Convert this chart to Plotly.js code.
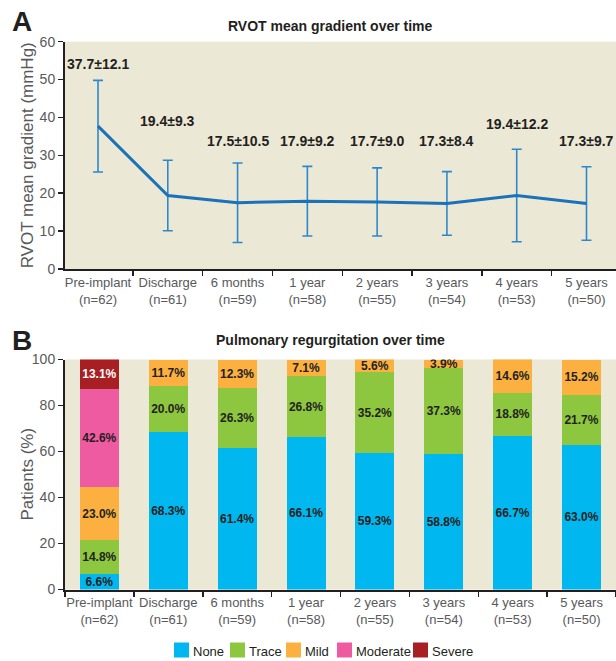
<!DOCTYPE html>
<html>
<head>
<meta charset="utf-8">
<script src="https://cdn.plot.ly/plotly-3.0.1.min.js"></script>
<style>
  html, body { margin: 0; padding: 0; background: #ffffff; }
  #chart { width: 616px; height: 661px; }
</style>
</head>
<body>
<div id="chart"></div>
<script>
// Follow-up visits and number of patients at each
const visits = ['Pre-implant', 'Discharge', '6 months', '1 year', '2 years', '3 years', '4 years', '5 years'];
const patientsN = [62, 61, 59, 58, 55, 54, 53, 50];

// RVOT mean gradient (mmHg): mean and standard deviation
const gradientMean = [37.7, 19.4, 17.5, 17.9, 17.7, 17.3, 19.4, 17.3];
const gradientSD = [12.1, 9.3, 10.5, 9.2, 9.0, 8.4, 12.2, 9.7];

// Pulmonary regurgitation grade, % of patients
const prNone = [6.6, 68.3, 61.4, 66.1, 59.3, 58.8, 66.7, 63.0];
const prTrace = [14.8, 20.0, 26.3, 26.8, 35.2, 37.3, 18.8, 21.7];
const prMild = [23.0, 11.7, 12.3, 7.1, 5.6, 3.9, 14.6, 15.2];
const prModerate = [42.6, null, null, null, null, null, null, null];
const prSevere = [13.1, null, null, null, null, null, null, null];
const gradeNames = ['None', 'Trace', 'Mild', 'Moderate', 'Severe'];

// ---- styling ----
const W = 616, H = 661;
const FONT = 'Liberation Sans, Arial, Helvetica, sans-serif';
const INK = '#231f20';
const GREY = '#58595b';
const PANEL_BG = '#ece8d6';
const gradeColors = ['#00b7ef', '#8dc63f', '#fbb040', '#ef5ba1', '#a71e23'];
const gradeTextColors = [INK, INK, INK, INK, '#ffffff'];

const px = v => v / W;            // horizontal pixel -> paper
const py = v => 1 - v / H;        // vertical pixel (from top) -> paper

// plot area edges in pixels
const PLOT_L = 65, PLOT_R = 616;
const A_TOP = 41.7, A_BOT = 269;
const B_TOP = 359.5, B_BOT = 589.5;

// heights (in mmHg) at which the mean±SD labels sit
const gradLabelY = [54, 39, 33.7, 33.7, 33.7, 33.7, 38.2, 33.7];

const tickText = visits.map((v, i) => v + '<br>(n=' + patientsN[i] + ')');

const traces = [];

traces.push({
  type: 'scatter',
  mode: 'lines',
  x: visits,
  y: gradientMean,
  xaxis: 'x', yaxis: 'y',
  line: { color: '#1b72b9', width: 3 },
  error_y: { type: 'data', array: gradientSD, visible: true, color: '#2f87cb', thickness: 1.6, width: 5 },
  showlegend: false,
  hoverinfo: 'skip'
});

const prSeries = [prNone, prTrace, prMild, prModerate, prSevere];
prSeries.forEach((vals, k) => {
  traces.push({
    type: 'bar',
    name: gradeNames[k],
    x: visits,
    y: vals,
    xaxis: 'x2', yaxis: 'y2',
    marker: { color: gradeColors[k], line: { width: 0 } },
    texttemplate: vals.map(v => (v === null ? '' : v.toFixed(1) + '%')),
    textposition: 'inside',
    insidetextanchor: 'middle',
    textangle: 0,
    constraintext: 'none',
    textfont: { family: FONT, size: 12, weight: 'bold', color: gradeTextColors[k] },
    showlegend: false,
    hoverinfo: 'skip'
  });
});

const xCommon = {
  type: 'category',
  domain: [px(PLOT_L), px(PLOT_R)],
  showline: true, linecolor: INK, linewidth: 2,
  ticks: 'outside', tickson: 'boundaries', ticklen: 5, tickwidth: 1.5, tickcolor: INK,
  tickvals: visits, ticktext: tickText, tickangle: 0,
  tickfont: { family: FONT, size: 13, color: GREY },
  showgrid: false, zeroline: false, fixedrange: true
};
const yCommon = {
  showline: true, linecolor: INK, linewidth: 2,
  ticks: 'outside', ticklen: 5, tickwidth: 1.5, tickcolor: INK,
  tickfont: { family: FONT, size: 14, color: GREY },
  showgrid: false, zeroline: false, fixedrange: true
};

const annotations = [];
// mean ± SD labels over the gradient line
visits.forEach((v, i) => {
  annotations.push({
    xref: 'x', yref: 'y', x: v, y: gradLabelY[i],
    text: '<b>' + gradientMean[i].toFixed(1) + '±' + gradientSD[i].toFixed(1) + '</b>',
    showarrow: false, xanchor: 'center', yanchor: 'middle',
    font: { family: FONT, size: 14, color: INK }
  });
});

function label(text, x, y, size, opts) {
  annotations.push(Object.assign({
    xref: 'paper', yref: 'paper', x: px(x), y: py(y), text: text,
    showarrow: false, xanchor: 'center', yanchor: 'middle',
    font: { family: FONT, size: size, color: INK }
  }, opts || {}));
}

// panel letters and titles
label('<b>A</b>', 10, 22, 28, { xanchor: 'left' });
label('<b>B</b>', 10, 340, 28, { xanchor: 'left' });
label('<b>RVOT mean gradient over time</b>', 330, 26, 14);
label('<b>Pulmonary regurgitation over time</b>', 330, 340, 14);

// axis titles
label('RVOT mean gradient (mmHg)', 27, (A_TOP + A_BOT) / 2, 17,
  { textangle: -90, font: { family: FONT, size: 17, color: GREY } });
label('Patients (%)', 27, (B_TOP + B_BOT) / 2, 17,
  { textangle: -90, font: { family: FONT, size: 17, color: GREY } });

// legend for regurgitation grades
const legendLeft = [174, 230, 286, 337, 413];
const LEG_Y = 650;
const shapes = [];
gradeNames.forEach((g, k) => {
  shapes.push({
    type: 'rect', xref: 'paper', yref: 'paper',
    x0: px(legendLeft[k]), x1: px(legendLeft[k] + 15),
    y0: py(LEG_Y - 7.5), y1: py(LEG_Y + 7.5),
    fillcolor: gradeColors[k], line: { width: 0 }
  });
  label(g, legendLeft[k] + 17, LEG_Y + 1, 13, { xanchor: 'left', font: { family: FONT, size: 13, color: INK } });
});

const layout = {
  width: W, height: H,
  margin: { l: 0, r: 0, t: 0, b: 0 },
  paper_bgcolor: '#ffffff',
  plot_bgcolor: PANEL_BG,
  showlegend: false,
  barmode: 'stack',
  bargap: 0.435,
  xaxis: Object.assign({}, xCommon, { anchor: 'y' }),
  yaxis: Object.assign({}, yCommon, { domain: [py(A_BOT), py(A_TOP)], range: [0, 60], dtick: 10, anchor: 'x' }),
  xaxis2: Object.assign({}, xCommon, { anchor: 'y2' }),
  yaxis2: Object.assign({}, yCommon, { domain: [py(B_BOT), py(B_TOP)], range: [0, 100], dtick: 20, anchor: 'x2' }),
  annotations: annotations,
  shapes: shapes
};

Plotly.newPlot('chart', traces, layout, { displayModeBar: false, staticPlot: true });
</script>
</body>
</html>
